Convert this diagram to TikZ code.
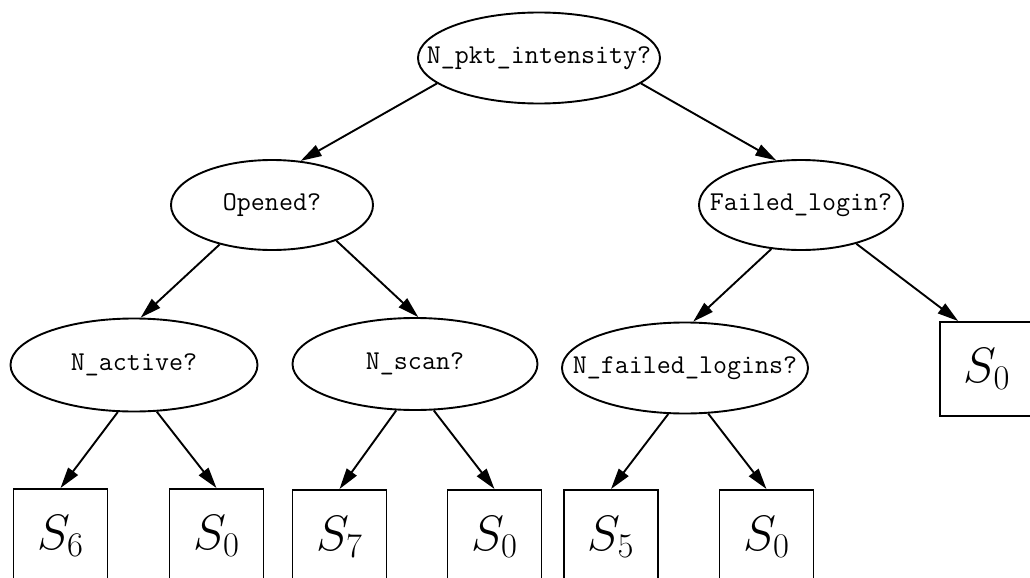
\documentclass[tikz,border=0pt]{standalone}
\usetikzlibrary{shapes.geometric,arrows.meta}
\begin{document}
\begin{tikzpicture}[x=0.5pt,y=-0.5pt,
  test/.style={ellipse,draw,line width=0.95pt,inner sep=0pt,
    font=\fontsize{13.6}{15}\selectfont\ttfamily},
  leaf/.style={rectangle,draw,line width=0.95pt,inner sep=0pt,
    minimum width=47pt,minimum height=47pt,font=\fontsize{25}{30}\selectfont},
  edge/.style={line width=0.95pt,-{Triangle[length=10.5pt,width=6pt]}}]
\useasboundingbox (0,0) rectangle (1030,578);
\clip (0,0) rectangle (1030,578);

% decision nodes (labels are zero-width so the ellipse keeps its set size)
\node[test,minimum width=121pt,minimum height=45.5pt] (root) at (539,58) {\makebox[0pt]{N\_pkt\_intensity?}};
\node[test,minimum width=101pt,minimum height=45pt] (op) at (272,205) {\makebox[0pt]{Opened?}};
\node[test,minimum width=102pt,minimum height=45pt] (fl) at (801,205) {\makebox[0pt]{Failed\_login?}};
\node[test,minimum width=123.5pt,minimum height=46.5pt] (na) at (134,365) {\makebox[0pt]{N\_active?}};
\node[test,minimum width=122.5pt,minimum height=46pt] (ns) at (415,364) {\makebox[0pt]{N\_scan?}};
\node[test,minimum width=123pt,minimum height=45.5pt] (nf) at (685,368) {\makebox[0pt]{N\_failed\_logins?}};

% leaves
\node[leaf] (s0r) at (987,369) {$S_0$};
\node[leaf] (s6)  at (60.5,536) {$S_6$};
\node[leaf] (s0a) at (216.5,536) {$S_0$};
\node[leaf] (s7)  at (339.5,537) {$S_7$};
\node[leaf] (s0b) at (494.5,537) {$S_0$};
\node[leaf] (s5)  at (611,537) {$S_5$};
\node[leaf] (s0c) at (766.5,537) {$S_0$};

% branches
\draw[edge] (root.-166) -- (op.57);
\draw[edge] (root.-14) -- (fl.119.5);
\draw[edge] (op.-143.5) -- (na.82.6);
\draw[edge] (op.-29.6) -- (ns.86);
\draw[edge] (fl.-124) -- (nf.80.3);
\draw[edge] (fl.-35) -- (s0r.121.7);
\draw[edge] (na.-109.5) -- (s6.north);
\draw[edge] (na.-64.4) -- (s0a.north);
\draw[edge] (ns.-112.6) -- (s7.north);
\draw[edge] (ns.-68.4) -- (s0b.north);
\draw[edge] (nf.-110.3) -- (s5.north);
\draw[edge] (nf.-63.4) -- (s0c.north);
\end{tikzpicture}
\end{document}
